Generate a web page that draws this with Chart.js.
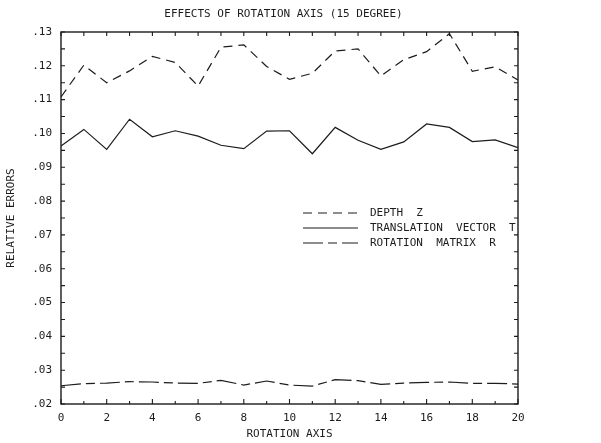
<!DOCTYPE html>
<html lang="en">
<head>
<meta charset="UTF-8">
<title>Effects of Rotation Axis</title>
<script src="https://cdn.jsdelivr.net/npm/chart.js"></script>
<style>
    body { margin: 0; background: #fff; }
    #wrap { width: 601px; height: 443px; }
</style>
</head>
<body>
<div id="wrap"><canvas id="chart"></canvas></div>
<script>
    // rotation axis index (x) and relative error per estimate
    const rotationAxis = [0, 1, 2, 3, 4, 5, 6, 7, 8, 9, 10, 11, 12, 13, 14, 15, 16, 17, 18, 19, 20];
    const depthZ = [0.1108, 0.1202, 0.1150, 0.1185, 0.1228, 0.1210, 0.1140, 0.1255, 0.1262, 0.1198, 0.1160,
                    0.1178, 0.1244, 0.1250, 0.1170, 0.1218, 0.1242, 0.1295, 0.1184, 0.1197, 0.1158];
    const translationT = [0.0963, 0.1012, 0.0953, 0.1042, 0.0990, 0.1008, 0.0992, 0.0965, 0.0955, 0.1007, 0.1008,
                          0.0940, 0.1018, 0.0980, 0.0953, 0.0975, 0.1028, 0.1018, 0.0976, 0.0981, 0.0958];
    const rotationR = [0.0254, 0.0260, 0.0262, 0.0266, 0.0265, 0.0262, 0.0261, 0.0270, 0.0256, 0.0268, 0.0256,
                       0.0253, 0.0272, 0.0269, 0.0258, 0.0262, 0.0264, 0.0265, 0.0261, 0.0261, 0.0259];
    const seriesNames = ['DEPTH  Z', 'TRANSLATION  VECTOR  T', 'ROTATION  MATRIX  R'];
    const chartTitle = 'EFFECTS OF ROTATION AXIS (15 DEGREE)';
    const yMin = 0.02, yMax = 0.13;

    const ink = '#1c1c1c';
    const font = { family: '"DejaVu Sans Mono", "Liberation Mono", monospace', size: 11 };

    const toPoints = vals => vals.map((v, i) => ({ x: rotationAxis[i], y: v }));

    // box frame with inward tick marks, the title, and the legend inside the plot
    const plotterFrame = {
        id: 'plotterFrame',
        afterDatasetsDraw(chart) {
            const { ctx, chartArea: a, scales: { x, y } } = chart;
            ctx.save();
            ctx.strokeStyle = ink;
            ctx.lineWidth = 1.4;
            ctx.strokeRect(a.left, a.top, a.right - a.left, a.bottom - a.top);
            ctx.lineWidth = 1.1;
            ctx.beginPath();
            rotationAxis.forEach(v => {
                const px = x.getPixelForValue(v);
                ctx.moveTo(px, a.bottom); ctx.lineTo(px, a.bottom - (v % 2 ? 3 : 5));
                ctx.moveTo(px, a.top); ctx.lineTo(px, a.top + 4);
            });
            for (let i = 0; i <= 22; i++) {
                const py = y.getPixelForValue(yMin + i * 0.005);
                ctx.moveTo(a.left, py); ctx.lineTo(a.left + 4, py);
                ctx.moveTo(a.right, py); ctx.lineTo(a.right - 4, py);
            }
            ctx.stroke();

            ctx.font = `${font.size}px ${font.family}`;
            ctx.fillStyle = ink;
            ctx.textBaseline = 'middle';
            ctx.textAlign = 'center';
            ctx.fillText(chartTitle, x.getPixelForValue(10) - 6, 14);

            // legend
            ctx.textAlign = 'left';
            const lx = a.left + 242, ly = a.top + 181;
            chart.data.datasets.forEach((ds, i) => {
                const yy = ly + i * 15;
                ctx.setLineDash(ds.borderDash || []);
                ctx.lineWidth = ds.borderWidth;
                ctx.beginPath();
                ctx.moveTo(lx, yy); ctx.lineTo(lx + 55, yy);
                ctx.stroke();
                ctx.setLineDash([]);
                ctx.fillText(ds.label, lx + 67, yy);
            });
            ctx.restore();
        }
    };

    const tickText = v => v.toFixed(2).replace(/^0/, '');

    new Chart(document.getElementById('chart'), {
        type: 'line',
        data: {
            datasets: [
                { label: seriesNames[0], data: toPoints(depthZ), borderColor: ink, borderWidth: 1.2, borderDash: [9, 6] },
                { label: seriesNames[1], data: toPoints(translationT), borderColor: ink, borderWidth: 1.2 },
                { label: seriesNames[2], data: toPoints(rotationR), borderColor: ink, borderWidth: 1.2, borderDash: [20, 5, 9, 5] }
            ]
        },
        options: {
            responsive: true,
            maintainAspectRatio: false,
            animation: false,
            elements: { point: { radius: 0 }, line: { tension: 0 } },
            layout: { padding: { left: 0, right: 83, top: 32, bottom: 2 } },
            plugins: {
                legend: { display: false },
                tooltip: { enabled: false },
                title: { display: false }
            },
            scales: {
                x: {
                    type: 'linear',
                    min: 0, max: 20,
                    grid: { display: false, drawTicks: false },
                    border: { display: false },
                    ticks: { stepSize: 2, color: ink, font, padding: 8, maxRotation: 0, callback: v => String(v) },
                    title: { display: true, text: 'ROTATION AXIS', color: ink, font, padding: { top: 2, bottom: 0 } },
                    afterFit: s => { s.height = 37; }
                },
                y: {
                    min: yMin, max: yMax,
                    grid: { display: false, drawTicks: false },
                    border: { display: false },
                    ticks: { stepSize: 0.01, color: ink, font, padding: 9, callback: v => tickText(v) },
                    title: { display: true, text: 'RELATIVE ERRORS', color: ink, font, padding: { top: 5, bottom: 0 } },
                    afterFit: s => { s.width = 61; }
                }
            }
        },
        plugins: [plotterFrame]
    });
</script>
</body>
</html>
